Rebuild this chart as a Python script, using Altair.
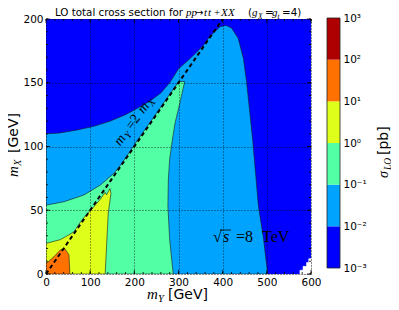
import altair as alt
import pandas as pd

# ---- colour bands of sigma_LO [pb] (jet colormap) ----
band_lo = [1e-3, 1e-2, 1e-1, 1e0, 1e1, 1e2]
band_hi = [1e-2, 1e-1, 1e0, 1e1, 1e2, 1e3]
band_colors = ["#0000ff", "#00a4ff", "#52ffa5", "#deff19", "#ff7100", "#ae0000"]
cbar_ticks = [1e-3, 1e-2, 1e-1, 1e0, 1e1, 1e2, 1e3]

# ---- region boundaries (m_Y, m_X) in GeV ----
# sigma >= 1e-2 (light blue)
lb_x = [0, 0, 30, 71, 110, 146, 180, 207, 235, 260, 280, 300, 320, 341, 358, 370, 382, 394, 408, 420, 435, 447, 454, 462, 468, 481, 492, 502]
lb_y = [0, 110, 110.5, 113, 116, 120, 125, 130, 135.5, 142, 150, 161, 167, 174, 180, 186, 190, 194, 195, 193, 185, 169, 151, 125, 105, 53, 29, 0]
# sigma >= 1e-1 (green)
gr_x = [0, 0, 41, 86, 124, 154, 169, 192, 207, 240, 270, 301, 314, 303, 292, 286, 280, 277, 276, 280, 288]
gr_y = [0, 54, 56.7, 62, 70, 79, 85.5, 97, 105, 121, 136, 151, 151, 134, 118, 105, 90, 74, 53, 27, 0]
# sigma >= 1 (yellow)
ye_x = [0, 0, 33, 63, 78.5, 90, 109, 124, 130, 134, 137, 145, 147, 141, 137, 134]
ye_y = [0, 24, 27, 33, 41, 46, 53, 59, 62, 64, 62, 67, 63, 48, 21, 0]
# sigma >= 10 (orange)
or_x = [0, 0, 18, 33, 42, 52, 54]
or_y = [0, 8, 13.6, 19, 20, 15, 0]
# sigma < 1e-3 (white)
wh_x = [575, 575, 582, 582, 590, 590, 595, 595, 600, 600]
wh_y = [0, 3, 3, 6, 6, 9, 9, 12, 12, 0]
# kinematic line m_Y = 2 m_X
diag_x = [0, 400]
diag_y = [0, 200]

x_major = [0, 100, 200, 300, 400, 500, 600]
y_major = [0, 50, 100, 150, 200]
x_minor = list(range(0, 601, 20))
y_minor = list(range(0, 201, 10))

W, H = 265, 255
xsc = alt.Scale(domain=[0, 600], nice=False, zero=False)
ysc = alt.Scale(domain=[0, 200], nice=False, zero=False)
xax = alt.Axis(values=x_major, title=None, ticks=False, domain=False, grid=True,
               gridDash=[1, 2], gridColor="black", gridWidth=0.8, gridOpacity=0.9,
               labelFont="DejaVu Sans", labelFontSize=10.5, labelColor="black",
               labelPadding=3, labelFlush=False, labelOverlap=False, zindex=1)
yax = alt.Axis(values=y_major, title=None, ticks=False, domain=False, grid=True,
               gridDash=[1, 2], gridColor="black", gridWidth=0.8, gridOpacity=0.9,
               labelFont="DejaVu Sans", labelFontSize=10.5, labelColor="black",
               labelPadding=3, labelFlush=False, labelOverlap=False, zindex=1)


def X():
    return alt.X("mY:Q", scale=xsc, axis=xax)


def Y():
    return alt.Y("mX:Q", scale=ysc, axis=yax)


def poly(xs, ys, color, stroke="#1a1a1a"):
    df = pd.DataFrame({"mY": xs, "mX": ys, "o": list(range(len(xs)))})
    return alt.Chart(df).mark_line(interpolate="linear-closed", fill=color, stroke=stroke,
                                   strokeWidth=0.6, clip=True).encode(x=X(), y=Y(), order="o:Q")


def txt(text, px, py, size, font="DejaVu Sans", style="normal", angle=0, dx=0, dy=0):
    return alt.Chart(pd.DataFrame({"t": [text]})).mark_text(
        align="left", baseline="alphabetic", font=font, fontSize=size, fontStyle=style,
        angle=angle, dx=dx, dy=dy, color="black").encode(
        x=alt.value(px), y=alt.value(py), text="t:N")


def dtxt(text, mx, my, size, font="Liberation Serif", style="normal", angle=0, dx=0, dy=0):
    return alt.Chart(pd.DataFrame({"t": [text], "mY": [mx], "mX": [my]})).mark_text(
        align="left", baseline="alphabetic", font=font, fontSize=size, fontStyle=style,
        angle=angle, dx=dx, dy=dy, color="black").encode(x=X(), y=Y(), text="t:N")


# lowest band (1e-3..1e-2) fills the whole plot area behind the other regions
bg = alt.Chart(pd.DataFrame({"a": [0]})).mark_rect(fill=band_colors[0]).encode(
    x=alt.value(0), x2=alt.value(W), y=alt.value(0), y2=alt.value(H))

layers = [
    bg,
    poly(lb_x, lb_y, band_colors[1]),
    poly(gr_x, gr_y, band_colors[2]),
    poly(ye_x, ye_y, band_colors[3]),
    poly(or_x, or_y, band_colors[4]),
    poly(wh_x, wh_y, "white", stroke="white"),
]

diag = alt.Chart(pd.DataFrame({"mY": diag_x, "mX": diag_y})).mark_line(
    color="black", strokeWidth=2, strokeDash=[4, 3], clip=True).encode(x=X(), y=Y())
layers.append(diag)


# inward ticks on all four sides
def ticks_x(vals, length):
    df = pd.DataFrame({"mY": vals})
    b = alt.Chart(df).mark_rule(color="black", strokeWidth=0.8).encode(
        x=X(), y=alt.value(H), y2=alt.value(H - length))
    t = alt.Chart(df).mark_rule(color="black", strokeWidth=0.8).encode(
        x=X(), y=alt.value(0), y2=alt.value(length))
    return [b, t]


def ticks_y(vals, length):
    df = pd.DataFrame({"mX": vals})
    l = alt.Chart(df).mark_rule(color="black", strokeWidth=0.8).encode(
        y=Y(), x=alt.value(0), x2=alt.value(length))
    r = alt.Chart(df).mark_rule(color="black", strokeWidth=0.8).encode(
        y=Y(), x=alt.value(W), x2=alt.value(W - length))
    return [l, r]


layers += ticks_x(x_minor, 2) + ticks_x(x_major, 4) + ticks_y(y_minor, 2) + ticks_y(y_major, 4)

# annotation m_Y = 2 m_X along the line
ang = 306
ax_, ay_ = 168, 100
layers += [
    dtxt("m", ax_, ay_, 14, style="italic", angle=ang, dx=0),
    dtxt("Y", ax_, ay_, 10, style="italic", angle=ang, dx=11, dy=3),
    dtxt("=2", ax_, ay_, 14, angle=ang, dx=20),
    dtxt("m", ax_, ay_, 14, style="italic", angle=ang, dx=40),
    dtxt("X", ax_, ay_, 10, style="italic", angle=ang, dx=51, dy=3),
]

# sqrt(s) = 8 TeV
layers += [
    txt("\u221a", 167, 223, 16, font="Liberation Serif"),
    txt("s", 177, 223, 16, font="Liberation Serif", style="italic"),
    txt("=8", 190, 223, 16, font="Liberation Serif"),
    txt("TeV", 216, 223, 16, font="Liberation Serif"),
    alt.Chart(pd.DataFrame({"a": [0]})).mark_rule(color="black", strokeWidth=0.8).encode(
        x=alt.value(174), x2=alt.value(185), y=alt.value(211)),
]

# title
ty = -3
layers += [
    txt("LO total cross section for", 9, ty, 10.3),
    txt("pp", 140, ty, 11, font="Liberation Serif", style="italic"),
    txt("\u2192", 149, ty, 10, font="DejaVu Sans"),
    txt("t", 158, ty, 11, font="Liberation Serif", style="italic"),
    txt("t", 162, ty, 11, font="Liberation Serif", style="italic"),
    txt("+", 168, ty, 11, font="Liberation Serif"),
    txt("X", 175, ty, 11, font="Liberation Serif", style="italic"),
    txt("X", 182, ty, 11, font="Liberation Serif", style="italic"),
    alt.Chart(pd.DataFrame({"a": [0]})).mark_rule(color="black", strokeWidth=0.7).encode(
        x=alt.value(163), x2=alt.value(166.5), y=alt.value(ty - 9)),
    alt.Chart(pd.DataFrame({"a": [0]})).mark_rule(color="black", strokeWidth=0.7).encode(
        x=alt.value(184), x2=alt.value(190), y=alt.value(ty - 10)),
    txt("(", 202, ty, 10.3),
    txt("g", 206, ty, 11, font="Liberation Serif", style="italic"),
    txt("X", 212, ty, 7.5, font="Liberation Serif", style="italic", dy=2.5),
    txt("=", 219, ty, 10.3),
    txt("g", 226, ty, 11, font="Liberation Serif", style="italic"),
    txt("t", 231.5, ty, 7.5, font="Liberation Serif", style="italic", dy=2.5),
    txt("=4)", 236, ty, 10.3),
]

# axis titles
layers += [
    txt("m", 101, 280, 15, font="Liberation Serif", style="italic"),
    txt("Y", 112, 283, 10.5, font="Liberation Serif", style="italic"),
    txt("[GeV]", 122, 280, 14),
    txt("m", -28, 158, 15, font="Liberation Serif", style="italic", angle=270),
    txt("X", -28, 158, 10.5, font="Liberation Serif", style="italic", angle=270, dx=11, dy=3),
    txt("[GeV]", -28, 158, 14, angle=270, dx=24),
    # colour bar title
    txt("\u03c3", 342, 159, 14, font="Liberation Serif", style="italic", angle=270),
    txt("LO", 342, 159, 9.5, font="Liberation Serif", style="italic", angle=270, dx=8, dy=3),
    txt("[pb]", 342, 159, 14, angle=270, dx=23),
]

main = alt.layer(*layers)

# colour bar
cb_df = pd.DataFrame({"lo": band_lo, "hi": band_hi, "col": band_colors})
cb_sc = alt.Scale(type="log", domain=[1e-3, 1e3], range=[249, -1], nice=False)
cb_ax = alt.Axis(orient="right", offset=29, values=cbar_ticks, title=None, ticks=False,
                 domain=False, grid=False, labelFont="DejaVu Sans", labelFontSize=10.5,
                 labelColor="black", labelPadding=3, labelFlush=False, labelOverlap=False,
                 labelBaseline="middle",
                 labelExpr="['10\u207b\u00b3','10\u207b\u00b2','10\u207b\u00b9','10\u2070','10\u00b9','10\u00b2','10\u00b3'][round(log(datum.value)/LN10)+3]")
cb = alt.Chart(cb_df).mark_rect().encode(
    x=alt.value(281), x2=alt.value(294),
    y=alt.Y("lo:Q", scale=cb_sc, axis=cb_ax), y2="hi:Q",
    color=alt.Color("col:N", scale=None))
cb_frame = alt.Chart(pd.DataFrame({"lo": [1e-3], "hi": [1e3]})).mark_rect(
    filled=False, stroke="#222", strokeWidth=0.8).encode(
    x=alt.value(281), x2=alt.value(294),
    y=alt.Y("lo:Q", scale=cb_sc, axis=cb_ax), y2="hi:Q")
cbar = alt.layer(cb, cb_frame)

chart = alt.layer(main, cbar).resolve_scale(y="independent").properties(
    width=W, height=H,
    padding={"left": 38, "top": 11, "right": 80, "bottom": 28},
    autosize=alt.AutoSizeParams(type="none"),
).configure_view(stroke="black", strokeWidth=1).configure(background="white")

chart.save("out.html", embed_options={"renderer": "svg", "actions": False})
